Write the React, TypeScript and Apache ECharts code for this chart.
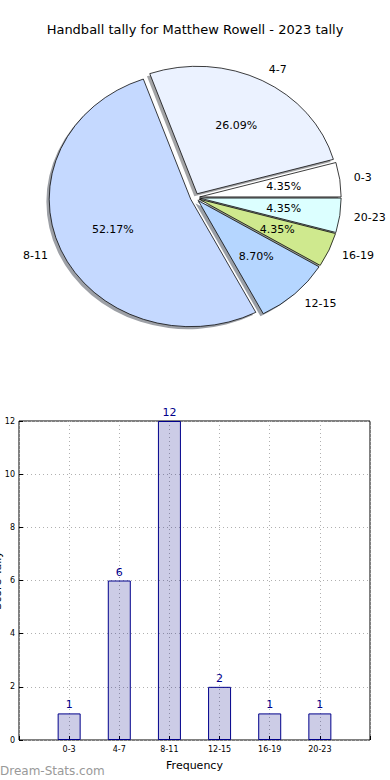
import React, { useEffect, useRef } from "react";
import * as echarts from "echarts";

const titleText = "Handball tally for Matthew Rowell - 2023 tally";
const categories = ["0-3", "4-7", "8-11", "12-15", "16-19", "20-23"];
const tallies = [1, 6, 12, 2, 1, 1];
const sliceColors = ["#ffffff", "#ebf2ff", "#c5d9ff", "#b5d6ff", "#cfe98e", "#dcffff"];
const yAxisName = "Score Tally";
const xAxisName = "Frequency";
const watermark = "Dream-Stats.com";

const FONT = "DejaVu Sans";
const CX = 195;
const CY = 197.5;
const RX = 141.5;
const RY = 127.5;
const EXPLODE = 0.033;

function hexToRgb(h: string) {
  const n = parseInt(h.slice(1), 16);
  return [(n >> 16) & 255, (n >> 8) & 255, n & 255];
}

export default function App() {
  const ref = useRef<HTMLDivElement>(null);
  useEffect(() => {
    document.body.style.margin = "0";
    if (!ref.current) return;
    const chart = echarts.init(ref.current, null, { renderer: "svg" });
    const total = tallies.reduce((a, b) => a + b, 0);
    const starts: number[] = [];
    let acc = 0;
    tallies.forEach((v) => {
      starts.push(acc);
      acc += v;
    });
    const geom = (i: number, v: number) => {
      const a1 = (starts[i] / total) * Math.PI * 2;
      const a2 = ((starts[i] + v) / total) * Math.PI * 2;
      const m = (a1 + a2) / 2;
      const dx = EXPLODE * RX * Math.cos(m);
      const dy = -EXPLODE * RY * Math.sin(m);
      return { a1, a2, m, x: CX + dx, y: CY + dy };
    };
    const sector = (x: number, y: number, a1: number, a2: number, style: any) => ({
      type: "sector",
      x,
      y,
      scaleX: 1,
      scaleY: RY / RX,
      shape: { cx: 0, cy: 0, r: RX, r0: 0, startAngle: -a2, endAngle: -a1, clockwise: true },
      style,
    });

    const barData: any[] = ["-", ...tallies, "-"];
    const xCats = ["", ...categories, ""];

    chart.setOption({
      animation: false,
      title: {
        text: titleText,
        left: "center",
        top: 23,
        padding: 0,
        textStyle: { fontFamily: FONT, fontSize: 13, fontWeight: "normal", color: "#000" },
      },
      graphic: [
        {
          type: "text",
          left: 0,
          top: 765,
          style: { text: watermark, fill: "#999999", font: `12px "${FONT}"` },
        },
      ],
      grid: {
        left: 19,
        right: 20,
        top: 421,
        bottom: 40,
        containLabel: false,
        outerBoundsMode: "none",
        show: true,
        borderColor: "#000",
        borderWidth: 1,
        backgroundColor: "transparent",
      },
      xAxis: {
        type: "category",
        data: xCats,
        boundaryGap: false,
        name: xAxisName,
        nameLocation: "middle",
        nameGap: 20,
        nameMoveOverlap: false,
        nameTextStyle: { fontFamily: FONT, fontSize: 11, color: "#000" },
        axisLine: { show: false },
        axisTick: { show: true, inside: true, length: 4, interval: 0, lineStyle: { color: "#000" } },
        axisLabel: { interval: 0, fontFamily: FONT, fontSize: 8, color: "#000", margin: 5 },
        splitLine: { show: true, interval: 0, lineStyle: { color: "#b0b0b0", type: [1, 3], width: 1 } },
      },
      yAxis: {
        type: "value",
        min: 0,
        max: 12,
        interval: 2,
        name: yAxisName,
        nameLocation: "middle",
        nameGap: 16,
        nameMoveOverlap: false,
        nameTextStyle: { fontFamily: FONT, fontSize: 11, color: "#000" },
        axisLine: { show: false },
        axisTick: { show: true, inside: true, length: 4, lineStyle: { color: "#000" } },
        axisLabel: { fontFamily: FONT, fontSize: 8, color: "#000", margin: 4 },
        splitLine: { show: true, lineStyle: { color: "#b0b0b0", type: [1, 3], width: 1 } },
      },
      series: [
        {
          type: "bar",
          data: barData,
          barWidth: 23,
          itemStyle: { color: "rgba(0,0,128,0.2)", borderColor: "#00008b", borderWidth: 1 },
          label: {
            show: true,
            position: "top",
            distance: 3,
            color: "#00008b",
            fontFamily: FONT,
            fontSize: 11,
          },
        },
        {
          type: "custom",
          coordinateSystem: "none",
          silent: true,
          z: 1,
          data: tallies,
          renderItem: (params: any, api: any) => {
            const i = params.dataIndex;
            const v = api.value(0);
            const g = geom(i, v);
            const [r, gg, b] = hexToRgb(sliceColors[i]);
            return sector(g.x - 0.02 * RX, g.y + 0.02 * RY, g.a1, g.a2, {
              fill: `rgba(${Math.round(r * 0.3)},${Math.round(gg * 0.3)},${Math.round(b * 0.3)},0.5)`,
            });
          },
        },
        {
          type: "custom",
          coordinateSystem: "none",
          silent: true,
          z: 2,
          data: tallies,
          renderItem: (params: any, api: any) => {
            const i = params.dataIndex;
            const v = api.value(0);
            const g = geom(i, v);
            return sector(g.x, g.y, g.a1, g.a2, {
              fill: sliceColors[i],
              stroke: "#000",
              lineWidth: 0.8,
              strokeNoScale: true,
            });
          },
        },
        {
          type: "custom",
          coordinateSystem: "none",
          silent: true,
          z: 3,
          data: tallies,
          renderItem: (params: any, api: any) => {
            const i = params.dataIndex;
            const v = api.value(0);
            const g = geom(i, v);
            const c = Math.cos(g.m);
            const s = Math.sin(g.m);
            const lx = g.x + 1.1 * RX * c;
            const ly = g.y - 1.1 * RY * s;
            const px = g.x + 0.6 * RX * c;
            const py = g.y - 0.6 * RY * s;
            return {
              type: "group",
              children: [
                {
                  type: "text",
                  x: lx,
                  y: ly,
                  style: {
                    text: categories[i],
                    fill: "#000",
                    fontFamily: FONT,
                    fontSize: 11,
                    align: c > 0 ? "left" : "right",
                    verticalAlign: "middle",
                  },
                },
                {
                  type: "text",
                  x: px,
                  y: py,
                  style: {
                    text: ((v / total) * 100).toFixed(2) + "%",
                    fill: "#000",
                    fontFamily: FONT,
                    fontSize: 11,
                    align: "center",
                    verticalAlign: "middle",
                  },
                },
              ],
            };
          },
        },
      ],
    });
    return () => chart.dispose();
  }, []);
  return <div ref={ref} style={{ width: 390, height: 780 }} />;
}
